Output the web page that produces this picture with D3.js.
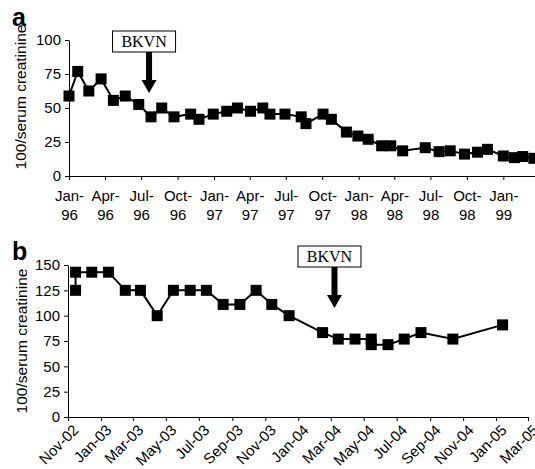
<!DOCTYPE html>
<html>
<head>
<meta charset="utf-8">
<script src="https://cdn.jsdelivr.net/npm/d3@7"></script>
<style>
	body { margin: 0; background: #fff; }
	svg { display: block; }
	.tick text { font-family: "Liberation Sans", Arial, sans-serif; }
</style>
</head>
<body>
<script>
// Panel a: 1996-1999
var datesA = [
	"1996-01-01", "1996-01-23", "1996-02-20", "1996-03-22", "1996-04-22", "1996-05-22",
	"1996-06-25", "1996-07-26", "1996-08-22", "1996-09-22", "1996-11-03", "1996-11-24",
	"1996-12-30", "1997-02-02", "1997-03-01", "1997-04-03", "1997-05-04", "1997-05-22",
	"1997-06-29", "1997-08-09", "1997-08-21", "1997-10-03", "1997-10-24", "1997-12-01",
	"1997-12-30", "1998-01-25", "1998-02-28", "1998-03-23", "1998-04-22", "1998-06-18",
	"1998-07-23", "1998-08-20", "1998-09-25", "1998-10-28", "1998-11-22", "1999-01-01",
	"1999-01-29", "1999-02-19", "1999-03-19"
];
var valuesA = [
	58.8, 76.9, 62.5, 71.4, 55.6, 58.8,
	52.6, 43.5, 50.0, 43.5, 45.5, 41.7,
	45.5, 47.6, 50.0, 47.6, 50.0, 45.5,
	45.5, 43.5, 38.5, 45.5, 41.7, 32.3,
	29.4, 27.0, 22.2, 22.2, 18.5, 20.8,
	17.9, 18.5, 16.1, 17.5, 19.6, 14.7,
	13.5, 14.3, 13.0
];
var ticksA = ["Jan-96", "Apr-96", "Jul-96", "Oct-96", "Jan-97", "Apr-97", "Jul-97",
	"Oct-97", "Jan-98", "Apr-98", "Jul-98", "Oct-98", "Jan-99"];
var yTicksA = [0, 25, 50, 75, 100];

// Panel b: 2002-2005
var datesB = [
	"2002-11-15", "2002-11-15", "2002-12-15", "2003-01-15", "2003-02-15", "2003-03-15",
	"2003-04-15", "2003-05-15", "2003-06-15", "2003-07-15", "2003-08-15", "2003-09-15",
	"2003-10-15", "2003-11-13", "2003-12-15", "2004-02-15", "2004-03-15", "2004-04-15",
	"2004-05-15", "2004-05-15", "2004-06-15", "2004-07-15", "2004-08-15", "2004-10-13",
	"2005-01-13"
];
var valuesB = [
	125, 142.9, 142.9, 142.9, 125, 125,
	100, 125, 125, 125, 111.1, 111.1,
	125, 111.1, 100, 83.3, 76.9, 76.9,
	76.9, 71.4, 71.4, 76.9, 83.3, 76.9,
	90.9
];
var ticksB = ["Nov-02", "Jan-03", "Mar-03", "May-03", "Jul-03", "Sep-03", "Nov-03",
	"Jan-04", "Mar-04", "May-04", "Jul-04", "Sep-04", "Nov-04", "Jan-05", "Mar-05"];
var yTicksB = [0, 25, 50, 75, 100, 125, 150];

var events = { a: "1996-07-21", b: "2004-03-08" };

var W = 535, H = 469;
var FONT = '"Liberation Sans", Arial, Helvetica, sans-serif';
var parseDay = d3.timeParse("%Y-%m-%d");
var parseTick = d3.timeParse("%b-%y");

var svg = d3.select("body").append("svg").attr("width", W).attr("height", H);

// draws one panel; geometry passed in, data from the arrays above
var panel = function(opt) {
	var g = svg.append("g");
	var tickDates = opt.ticks.map(parseTick);

	var x = d3.scaleTime()
		.domain([tickDates[0], parseTick(opt.xEnd)])
		.range([opt.left, opt.right]);
	var y = d3.scaleLinear()
		.domain([0, d3.max(opt.yTicks)])
		.range([opt.bottom, opt.top]);

	// y axis
	var ya = g.append("g")
		.attr("transform", "translate(" + opt.left + ",0)")
		.call(d3.axisLeft(y).tickValues(opt.yTicks).tickSize(4).tickSizeOuter(0).tickPadding(4));
	ya.selectAll("text").style("font-size", "15px").style("font-family", FONT).attr("fill", "#000");
	ya.select(".domain").attr("stroke", "#000");

	// x axis
	var xa = g.append("g")
		.attr("transform", "translate(0," + opt.bottom + ")")
		.call(d3.axisBottom(x).tickValues(tickDates).tickSize(4).tickSizeOuter(0).tickFormat(""));
	xa.select(".domain").attr("stroke", "#000");
	opt.labels(xa, tickDates, x);

	// y title
	g.append("text")
		.attr("transform", "translate(" + opt.titleX + "," + opt.titleY + ") rotate(-90)")
		.attr("text-anchor", "middle")
		.style("font-family", FONT)
		.style("font-size", "15.5px")
		.text("100/serum creatinine");

	// panel letter
	g.append("text")
		.attr("x", 12)
		.attr("y", opt.letterY)
		.style("font-family", FONT)
		.style("font-weight", "bold")
		.style("font-size", "25px")
		.text(opt.letter);

	// series
	var pts = opt.dates.map(function(d, i) { return { date: parseDay(d), v: opt.values[i] }; });
	g.append("path")
		.datum(pts)
		.attr("fill", "none")
		.attr("stroke", "#000")
		.attr("stroke-width", 2)
		.attr("d", d3.line().x(function(d) { return x(d.date); }).y(function(d) { return y(d.v); }));
	var s = 11;
	g.selectAll("rect.pt").data(pts).enter().append("rect")
		.attr("class", "pt")
		.attr("x", function(d) { return x(d.date) - s / 2; })
		.attr("y", function(d) { return y(d.v) - s / 2; })
		.attr("width", s)
		.attr("height", s)
		.attr("fill", "#000");

	// BKVN marker
	var ax = x(parseDay(opt.event));
	var bx = ax - 5, bw = 63, bh = 21;
	g.append("rect")
		.attr("x", bx - bw / 2).attr("y", opt.boxTop)
		.attr("width", bw).attr("height", bh)
		.attr("fill", "#fff").attr("stroke", "#000").attr("stroke-width", 1);
	g.append("text")
		.attr("x", bx).attr("y", opt.boxTop + 16)
		.attr("text-anchor", "middle")
		.style("font-family", '"Liberation Serif", "Times New Roman", serif')
		.style("font-size", "16px")
		.text("BKVN");
	var top = opt.boxTop + bh, tip = top + 41, head = 13;
	g.append("path")
		.attr("d", "M" + (ax - 3) + "," + top + "V" + (tip - head) + "H" + (ax - 7.5) +
			"L" + ax + "," + tip + "L" + (ax + 7.5) + "," + (tip - head) + "H" + (ax + 3) + "V" + top + "Z")
		.attr("fill", "#000");
};

panel({
	letter: "a", letterY: 26,
	left: 69, right: 539, top: 40, bottom: 176,
	xEnd: "Apr-99",
	ticks: ticksA, yTicks: yTicksA,
	dates: datesA, values: valuesA,
	titleX: 26, titleY: 97,
	event: events.a, boxTop: 31,
	labels: function(xa) {
		xa.selectAll(".tick text").remove();
		var t = xa.selectAll(".tick").append("text")
			.attr("fill", "#000")
			.attr("text-anchor", "middle")
			.style("font-family", FONT)
			.style("font-size", "15px");
		t.append("tspan").attr("x", 0).attr("y", 25).text(function(d) { return d3.timeFormat("%b-")(d); });
		t.append("tspan").attr("x", 0).attr("y", 44).text(function(d) { return d3.timeFormat("%y")(d); });
	}
});

panel({
	letter: "b", letterY: 260,
	left: 68, right: 528, top: 265, bottom: 417,
	xEnd: "Mar-05",
	ticks: ticksB, yTicks: yTicksB,
	dates: datesB, values: valuesB,
	titleX: 26.5, titleY: 341,
	event: events.b, boxTop: 246,
	labels: function(xa) {
		xa.selectAll(".tick text").remove();
		xa.selectAll(".tick").append("text")
			.attr("fill", "#000")
			.attr("text-anchor", "end")
			.attr("transform", "translate(11,14) rotate(-45)")
			.style("font-family", FONT)
			.style("font-size", "15px")
			.text(function(d) { return d3.timeFormat("%b-%y")(d); });
	}
});
</script>
</body>
</html>
